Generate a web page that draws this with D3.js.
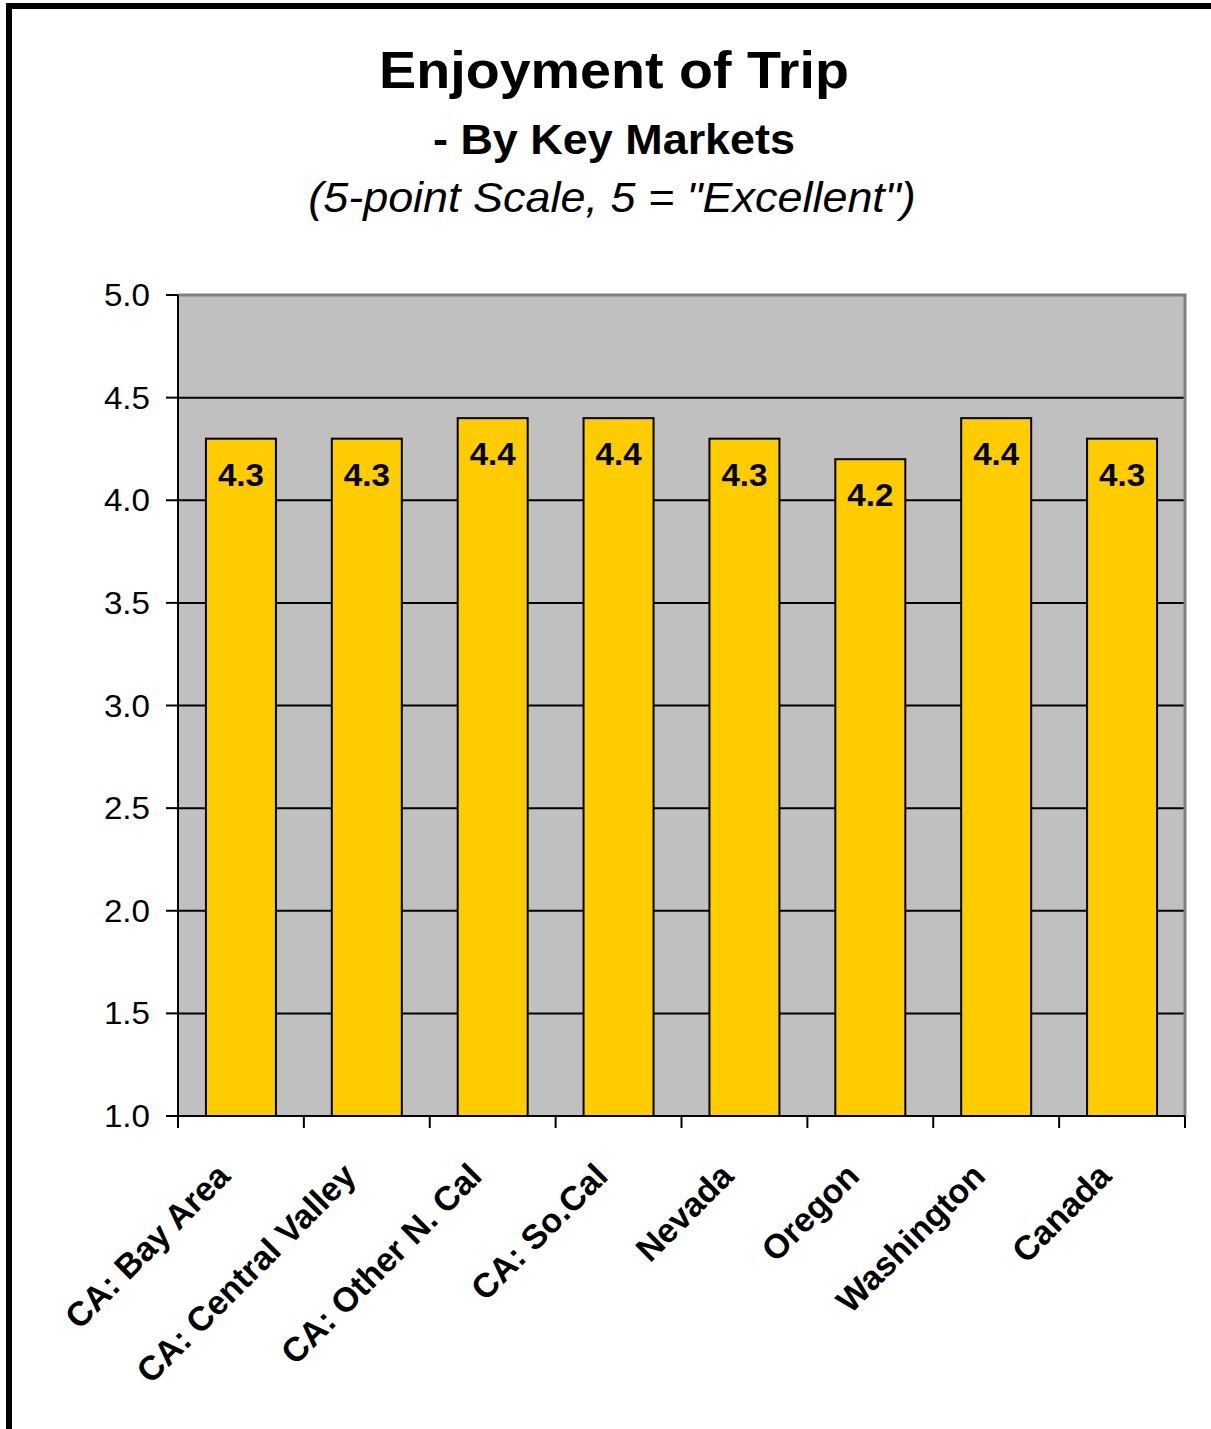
<!DOCTYPE html>
<html>
<head>
<meta charset="utf-8">
<script src="https://cdn.jsdelivr.net/npm/d3@7"></script>
<style>
  html, body { margin: 0; padding: 0; background: #fff; }
  svg { display: block; }
  text { font-family: "Liberation Sans", Arial, sans-serif; fill: #000; }
</style>
</head>
<body>
<svg id="chart" width="1211" height="1429"></svg>
<script>
// Mean enjoyment rating by market
const markets = ["CA: Bay Area", "CA: Central Valley", "CA: Other N. Cal", "CA: So.Cal",
                 "Nevada", "Oregon", "Washington", "Canada"];
const ratings = [4.3, 4.3, 4.4, 4.4, 4.3, 4.2, 4.4, 4.3];
const yTicks = [1.0, 1.5, 2.0, 2.5, 3.0, 3.5, 4.0, 4.5, 5.0];
const titleLines = ["Enjoyment of Trip", "- By Key Markets", "(5-point Scale, 5 = \"Excellent\")"];

const svg = d3.select("#chart");
const plot = { left: 178, right: 1185, top: 295, bottom: 1116 };
const SX = 1.07; // slightly wide lettering

// outer frame
svg.append("rect")
  .attr("x", 9).attr("y", 6).attr("width", 1400).attr("height", 1600)
  .attr("fill", "none").attr("stroke", "#000").attr("stroke-width", 6);

// place text with a horizontal stretch about its anchor point
function stretchedText(g, x, y, str) {
  return g.append("text")
    .attr("transform", `translate(${x},${y}) scale(${SX},1)`)
    .text(str);
}

// titles
const tg = svg.append("g").attr("text-anchor", "middle");
stretchedText(tg, 614, 88, titleLines[0]).attr("font-size", 52).attr("font-weight", "bold");
stretchedText(tg, 614, 154, titleLines[1]).attr("font-size", 42).attr("font-weight", "bold");
stretchedText(tg, 612, 212, titleLines[2]).attr("font-size", 42).attr("font-style", "italic");

const x = d3.scaleBand()
  .domain(markets)
  .range([plot.left, plot.right])
  .paddingInner(0.444)
  .paddingOuter(0.222);

const y = d3.scaleLinear()
  .domain([1, 5])
  .range([plot.bottom, plot.top]);

// plot background
svg.append("rect")
  .attr("x", plot.left).attr("y", plot.top)
  .attr("width", plot.right - plot.left).attr("height", plot.bottom - plot.top)
  .attr("fill", "#C0C0C0");

// gridlines
svg.append("g")
  .selectAll("line")
  .data(yTicks.filter(t => t > 1 && t < 5))
  .join("line")
  .attr("x1", plot.left).attr("x2", plot.right)
  .attr("y1", d => y(d)).attr("y2", d => y(d))
  .attr("stroke", "#000").attr("stroke-width", 2);

// plot border (top and right in gray)
svg.append("path")
  .attr("d", `M${plot.left},${plot.top}H${plot.right}V${plot.bottom}`)
  .attr("fill", "none").attr("stroke", "#808080").attr("stroke-width", 3);

// bars
svg.append("g")
  .selectAll("rect")
  .data(ratings)
  .join("rect")
  .attr("x", (d, i) => x(markets[i]))
  .attr("y", d => y(d))
  .attr("width", x.bandwidth())
  .attr("height", d => y(1) - y(d))
  .attr("fill", "#FFCC00")
  .attr("stroke", "#000").attr("stroke-width", 2);

// value labels
const vl = svg.append("g").attr("text-anchor", "middle");
ratings.forEach((d, i) => {
  stretchedText(vl, x(markets[i]) + x.bandwidth() / 2, y(d) + 47, d3.format(".1f")(d))
    .attr("font-size", 31).attr("font-weight", "bold");
});

// y axis
const yAxis = svg.append("g").attr("transform", `translate(${plot.left},0)`);
yAxis.append("line")
  .attr("y1", plot.top).attr("y2", plot.bottom)
  .attr("stroke", "#000").attr("stroke-width", 2);
yAxis.selectAll(".tick")
  .data(yTicks)
  .join("line")
  .attr("x1", -12).attr("x2", 0)
  .attr("y1", d => y(d)).attr("y2", d => y(d))
  .attr("stroke", "#000").attr("stroke-width", 2);
const yl = yAxis.append("g").attr("text-anchor", "end");
yTicks.forEach(t => {
  stretchedText(yl, -28, y(t) + 11, d3.format(".1f")(t)).attr("font-size", 31);
});

// x axis
const xAxis = svg.append("g");
xAxis.append("line")
  .attr("x1", plot.left - 1).attr("x2", plot.right)
  .attr("y1", plot.bottom).attr("y2", plot.bottom)
  .attr("stroke", "#000").attr("stroke-width", 2);
const bounds = markets.map(m => x(m) - x.step() * x.paddingInner() / 2).concat([plot.right]);
xAxis.selectAll(".xt")
  .data(bounds)
  .join("line")
  .attr("x1", d => d).attr("x2", d => d)
  .attr("y1", plot.bottom).attr("y2", plot.bottom + 12)
  .attr("stroke", "#000").attr("stroke-width", 2);
xAxis.selectAll(".xl")
  .data(markets)
  .join("text")
  .attr("text-anchor", "end")
  .attr("font-size", 34).attr("font-weight", "bold")
  .attr("transform", d => `translate(${x(d) + x.bandwidth() / 2 - 9},${plot.bottom + 62}) rotate(-45)`)
  .text(d => d);
</script>
</body>
</html>
